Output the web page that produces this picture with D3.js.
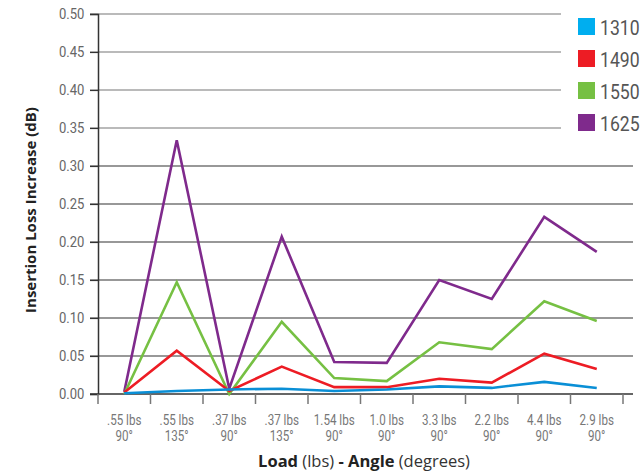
<!DOCTYPE html>
<html><head><meta charset="utf-8">
<script src="https://cdn.jsdelivr.net/npm/d3@7"></script>
<style>body{margin:0;background:#fff}</style>
</head><body>
<script>
const categories = [".55 lbs|90°", ".55 lbs|135°", ".37 lbs|90°", ".37 lbs|135°", "1.54 lbs|90°", "1.0 lbs|90°", "3.3 lbs|90°", "2.2 lbs|90°", "4.4 lbs|90°", "2.9 lbs|90°"];
const seriesNames = ["1310", "1490", "1550", "1625"];
const v1310 = [0.001, 0.004, 0.006, 0.007, 0.004, 0.006, 0.010, 0.008, 0.016, 0.008];
const v1490 = [0.002, 0.057, 0.004, 0.036, 0.009, 0.009, 0.020, 0.015, 0.053, 0.033];
const v1550 = [0.000, 0.147, 0.000, 0.095, 0.021, 0.017, 0.068, 0.059, 0.122, 0.096];
const v1625 = [0.003, 0.334, 0.007, 0.207, 0.042, 0.041, 0.150, 0.125, 0.233, 0.187];
const yTicks = [0, 0.05, 0.10, 0.15, 0.20, 0.25, 0.30, 0.35, 0.40, 0.45, 0.50];
const colors = ["#0a8fd6", "#ed1c24", "#76c043", "#7f2a8c"];
const legendColors = ["#00aeef", "#ed1c24", "#76c043", "#7f2a8c"];

const W = 642, H = 473;
const svg = d3.select("body").append("svg").attr("width", W).attr("height", H);
const font = "Roboto, sans-serif";

const x = d3.scaleBand().domain(categories).range([98, 623]);
const y = d3.scaleLinear().domain([0, 0.5]).range([394, 14]);

// gridlines
svg.append("g").selectAll("line").data(yTicks.slice(1)).join("line")
  .attr("x1", 90).attr("x2", d => d >= 0.35 ? 561 : 633)
  .attr("y1", d => y(d)).attr("y2", d => y(d))
  .attr("stroke", d => d >= 0.35 ? "#777" : "#333").attr("stroke-width", 1.2);

// y axis
const yAxis = svg.append("g").attr("transform", "translate(98,0)")
  .call(d3.axisLeft(y).tickValues(yTicks).tickFormat(d3.format(".2f")).tickSize(8).tickPadding(6));
yAxis.select(".domain").attr("stroke", "#333").attr("stroke-width", 1.5);
yAxis.selectAll(".tick line").attr("stroke", "#333").attr("stroke-width", 1.2);
yAxis.selectAll(".tick text").attr("fill", "#666").style("font-family", font).style("font-size", "14.5px")
  .attr("transform", "translate(-1,0) scale(0.9,1)");

// x axis
const xAxis = svg.append("g").attr("transform", "translate(0,394)");
xAxis.append("line").attr("x1", 90).attr("x2", 633).attr("y1", 0).attr("y2", 0)
  .attr("stroke", "#333").attr("stroke-width", 1.5);
const edges = categories.map(c => x(c)).concat([x.range()[1]]);
xAxis.selectAll("line.t").data(edges).join("line").attr("class", "t")
  .attr("x1", d => d).attr("x2", d => d).attr("y1", 0).attr("y2", 10)
  .attr("stroke", "#777").attr("stroke-width", 1.5);
const lg0 = xAxis.selectAll("g.l").data(categories).join("g").attr("class", "l")
  .attr("transform", d => `translate(${x(d) + x.bandwidth() / 2},0) scale(0.8,1)`);
[0, 1].forEach(r => {
  lg0.append("text").attr("text-anchor", "middle").attr("x", 0).attr("y", 31 + r * 16.5)
    .attr("fill", "#777").style("font-family", font).style("font-size", "14.5px")
    .text(d => d.split("|")[r]);
});

// lines
const allSeries = [v1310, v1490, v1550, v1625];
const line = d3.line().x((d, i) => x(categories[i]) + x.bandwidth() / 2).y(d => y(d));
[3, 2, 1, 0].forEach(k => {
  svg.append("path").datum(allSeries[k]).attr("d", line)
    .attr("fill", "none").attr("stroke", colors[k]).attr("stroke-width", 2.6)
    .attr("stroke-linejoin", "miter");
});

// legend
const lg = svg.append("g").selectAll("g").data(seriesNames).join("g")
  .attr("transform", (d, i) => `translate(578,${18 + i * 32})`);
lg.append("rect").attr("width", 17).attr("height", 17).attr("fill", (d, i) => legendColors[i]);
lg.append("text").attr("transform", "translate(22,17) scale(0.84,1)").text(d => d)
  .attr("fill", "#555").style("font-family", font).style("font-size", "21px");

// y title
svg.append("text").attr("transform", "translate(36,210) rotate(-90)").attr("text-anchor", "middle")
  .style("font-family", "'Open Sans', sans-serif").style("font-weight", "bold").style("font-size", "15px")
  .attr("fill", "#222").text("Insertion Loss Increase (dB)");

// x title
const xt = svg.append("text").attr("x", 364).attr("y", 467).attr("text-anchor", "middle")
  .style("font-family", "'Open Sans', sans-serif").style("font-size", "16.5px").attr("fill", "#333");
xt.append("tspan").style("font-weight", "bold").attr("fill", "#222").text("Load ");
xt.append("tspan").text("(lbs) ");
xt.append("tspan").style("font-weight", "bold").attr("fill", "#222").text("- Angle ");
xt.append("tspan").text("(degrees)");
</script>
</body></html>
